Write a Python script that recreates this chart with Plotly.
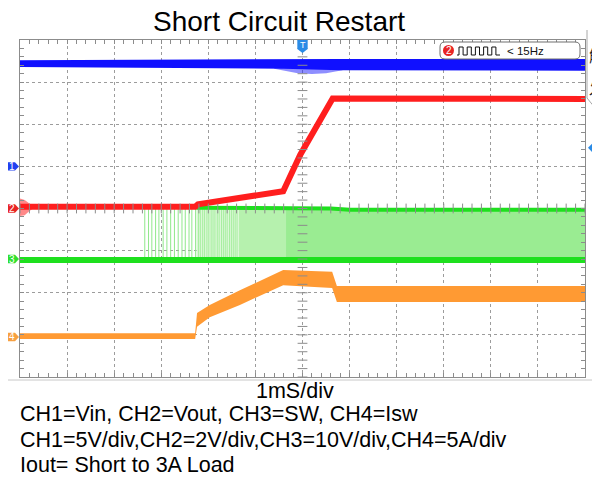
import numpy as np
import plotly.graph_objects as go

# scope screen in px (reference picture coords): 12 x 8 divisions
L, T, W, H = 20, 40, 565, 337
PAGE = 8  # body margin of the html page
FIG_W, FIG_H = 600 - PAGE, 477 - PAGE

BLUE = "#1010ff"
RED = "#ff1e1e"
GREEN = "#1ee01e"
ORANGE = "#ff9a33"
TRIG = "#2a8be6"
GRIDC = "#9c9c9c"
FRAME = "#8c8c8c"
FONT = "Liberation Sans, Arial, sans-serif"
CJK = "Noto Sans CJK SC, Noto Sans CJK JP, sans-serif"

# time in ms (1 ms/div, trigger at 0), levels in divisions
CH_LABELS = ["1", "2", "3", "4"]
CH_LEVELS = [1.0, 0.0, -1.2, -3.05]
CH_COLORS = ["#2040f0", "#e82424", "#2ee02e", "#f7a040"]
TRIG_LEVEL = 1.44

# CH1 Vin (band + fuzz during restart)
CH1_T = [-6, -0.4, 0.8, 6]
CH1_HI = [3.52, 3.55, 3.55, 3.55]
CH1_LO = [3.36, 3.32, 3.28, 3.27]
CH1_FUZZ_T = [-0.6, -0.3, -0.1, 0.2, 0.5, 0.7, 0.85]
CH1_FUZZ_LO = [3.32, 3.25, 3.21, 3.19, 3.21, 3.25, 3.28]

# CH2 Vout
CH2_T = [-6, -2.28, -2.22, -0.41, -0.05, 0.64, 6]
CH2_V = [0.04, 0.04, 0.10, 0.41, 1.27, 2.61, 2.60]
CH2_BURST_T = [-6, -5.9, -5.8, -5.72]
CH2_BURST_HI = [0.24, 0.2, 0.12, 0.06]
CH2_BURST_LO = [-0.18, -0.16, -0.06, 0.0]

# CH3 SW
CH3_BASE = -1.22
CH3_TOP = 0.0
CH3_PULSES = [-3.35, -3.27, -3.20, -3.12, -3.05, -2.96, -2.88, -2.80,
              -2.72, -2.64, -2.56, -2.49, -2.41, -2.35, -2.27]
CH3_PULSES_DENSE = [-2.21, -2.17, -2.12, -2.08, -2.03, -1.99, -1.94, -1.90, -1.86,
                    -1.81, -1.77, -1.72, -1.68, -1.64, -1.60, -1.55, -1.51, -1.47,
                    -1.43, -1.39]
CH3_SEG_T = [-2.25, -1.35, -0.35, 6.0]
CH3_SEG_COL = ["#dcf8d8", "#b6f1ae", "#9aec92"]
CH3_EDGE_T = [-2.25, 0.6, 1.0, 6.0]
CH3_EDGE_V = [0.02, 0.0, -0.03, -0.03]

# CH4 Isw (band)
CH4_T = [-6, -2.28, -2.24, -1.97, -1.33, -0.41, 0.63, 0.73, 6]
CH4_HI = [-2.96, -2.96, -2.48, -2.29, -1.94, -1.46, -1.50, -1.84, -1.84]
CH4_LO = [-3.10, -3.10, -2.81, -2.58, -2.29, -1.82, -1.89, -2.22, -2.22]


def px(x):
    return (x - L) / W


def py(y):
    return (T + H - y) / H


def band(fig, t, lo, hi, color):
    fig.add_trace(go.Scatter(x=t, y=lo, mode="lines", line=dict(width=0),
                             hoverinfo="skip", showlegend=False))
    fig.add_trace(go.Scatter(x=t, y=hi, mode="lines", line=dict(width=0),
                             fill="tonexty", fillcolor=color,
                             hoverinfo="skip", showlegend=False))


def line(fig, t, v, color, width):
    fig.add_trace(go.Scatter(x=t, y=v, mode="lines", line=dict(color=color, width=width),
                             hoverinfo="skip", showlegend=False))


def pulses(fig, ts, color):
    xs, ys = [], []
    for t in ts:
        xs += [t, t, None]
        ys += [CH3_BASE, CH3_TOP + 0.03, None]
    fig.add_trace(go.Scatter(x=xs, y=ys, mode="lines", line=dict(color=color, width=1),
                             hoverinfo="skip", showlegend=False))


def note(text, x, y, size, color="black", xanchor="center", family=FONT, xref="paper", yref="paper"):
    return dict(text=text, x=x, y=y, xref=xref, yref=yref, xanchor=xanchor, yanchor="middle",
                showarrow=False, font=dict(size=size, color=color, family=family))


def rounded(x0, y0, x1, y1, r):
    a, b, c, d = px(x0), px(x1), py(y0), py(y1)
    rx, ry = r / W, r / H
    return (f"M {a+rx},{c} L {b-rx},{c} Q {b},{c} {b},{c-ry} L {b},{d+ry} "
            f"Q {b},{d} {b-rx},{d} L {a+rx},{d} Q {a},{d} {a},{d+ry} "
            f"L {a},{c-ry} Q {a},{c} {a+rx},{c} Z")


fig = go.Figure()

# CH3 switching node
for i, col in enumerate(CH3_SEG_COL):
    band(fig, CH3_SEG_T[i:i + 2], [CH3_BASE] * 2, [CH3_TOP] * 2, col)
pulses(fig, CH3_PULSES, "#8fe88a")
pulses(fig, CH3_PULSES_DENSE, "#a6ee9f")
line(fig, CH3_EDGE_T, CH3_EDGE_V, GREEN, 4)
line(fig, [-6, 6], [CH3_BASE, CH3_BASE], GREEN, 6)

# CH4 inductor current
band(fig, CH4_T, CH4_LO, CH4_HI, ORANGE)

# CH1 input voltage
band(fig, CH1_FUZZ_T, CH1_FUZZ_LO, [3.4] * len(CH1_FUZZ_T), "rgba(30,30,255,0.5)")
band(fig, CH1_T, CH1_LO, CH1_HI, BLUE)

# CH2 output voltage
band(fig, CH2_BURST_T, CH2_BURST_LO, CH2_BURST_HI, "rgba(255,40,40,0.55)")
line(fig, CH2_T, CH2_V, RED, 6)

# centre graticule ticks
ys = np.arange(-4, 4.01, 0.2)
xs = np.arange(-6, 6.01, 0.2)
fig.add_trace(go.Scatter(x=np.zeros_like(ys), y=ys, mode="markers", hoverinfo="skip",
                         marker=dict(symbol="line-ew", size=7, line=dict(width=1, color=FRAME)),
                         showlegend=False))
fig.add_trace(go.Scatter(x=xs, y=np.zeros_like(xs), mode="markers", hoverinfo="skip",
                         marker=dict(symbol="line-ns", size=7, line=dict(width=1, color=FRAME)),
                         showlegend=False))

shapes, notes = [], []

# channel ground flags
for lab, lev, col in zip(CH_LABELS, CH_LEVELS, CH_COLORS):
    h = 0.1
    shapes.append(dict(type="path", xref="paper", yref="y", fillcolor=col, line=dict(width=0),
                       path=f"M {px(7)},{lev+h} L {px(15)},{lev+h} L {px(19)},{lev} "
                            f"L {px(15)},{lev-h} L {px(7)},{lev-h} Z"))
    notes.append(note(lab, px(12), lev, 10, "white", yref="y"))

# trigger position (top) and level (right)
shapes.append(dict(type="path", xref="x", yref="paper", fillcolor=TRIG, line=dict(width=0),
                   path=f"M -0.11,{py(40)} L 0.11,{py(40)} L 0.11,{py(49)} L 0,{py(53)} "
                        f"L -0.11,{py(49)} Z"))
notes.append(note("T", 0, py(45.5), 9, "white", xref="x"))
shapes.append(dict(type="path", xref="paper", yref="y", fillcolor=TRIG, line=dict(width=0),
                   path=f"M {px(600)},{TRIG_LEVEL+0.1} L {px(592)},{TRIG_LEVEL+0.1} "
                        f"L {px(588)},{TRIG_LEVEL} L {px(592)},{TRIG_LEVEL-0.1} "
                        f"L {px(600)},{TRIG_LEVEL-0.1} Z"))
notes.append(note("T", px(595.5), TRIG_LEVEL, 8, "white", yref="y"))

# right side panel (menu, mostly off screen)
shapes.append(dict(type="path", xref="paper", yref="paper", line=dict(color="#a8a8a8", width=1),
                   path=f"M {px(587)},{py(30)} L {px(587)},{py(98)} L {px(600)},{py(114)}"))
notes.append(note("触", px(587), py(55), 16, "#222", "left", CJK))
notes.append(note("发", px(587), py(88), 16, "#222", "left", CJK))
shapes.append(dict(type="path", xref="paper", yref="paper", line=dict(color="#c8c8c8", width=1),
                   path=f"M {px(8)},{py(380)} L {px(594)},{py(380)} Q {px(599)},{py(380)} "
                        f"{px(599)},{py(375)}"))

# trigger info box
shapes.append(dict(type="path", xref="paper", yref="paper", line=dict(color="#6e6e6e", width=1),
                   fillcolor="white", path=rounded(440, 42, 580, 59, 5)))
shapes.append(dict(type="circle", xref="paper", yref="paper", fillcolor="#e82424",
                   line=dict(width=0), x0=px(443), x1=px(454), y0=py(45), y1=py(56)))
notes.append(note("2", px(448.5), py(50.5), 10, "white"))
wave = f"M {px(457)},{py(55)}"
for k in range(5):
    x0 = 459 + k * 8.2
    wave += (f" L {px(x0)},{py(55)} L {px(x0)},{py(47)} L {px(x0+4.1)},{py(47)}"
             f" L {px(x0+4.1)},{py(55)}")
wave += f" L {px(500)},{py(55)}"
shapes.append(dict(type="path", xref="paper", yref="paper", line=dict(color="#111", width=1),
                   path=wave))
notes.append(note("< 15Hz", px(505), py(50.5), 11.5, "#111", "left"))

# captions
notes.append(note("Short Circuit Restart", px(279), py(22), 28))
notes.append(note("1mS/div", px(295), py(391), 21.5))
for txt, yy in (("CH1=Vin, CH2=Vout, CH3=SW, CH4=Isw", 414),
                ("CH1=5V/div,CH2=2V/div,CH3=10V/div,CH4=5A/div", 440),
                ("Iout= Short to 3A Load", 465)):
    notes.append(note(txt, px(18), py(yy), 21.5, "black", "left"))

axis = dict(showgrid=True, gridcolor=GRIDC, griddash="dot", gridwidth=1, zeroline=False,
            showline=True, linecolor=FRAME, linewidth=1, mirror="allticks",
            ticks="inside", ticklen=4, tickcolor=FRAME, showticklabels=False,
            minor=dict(ticks="inside", ticklen=4, tickcolor=FRAME, showgrid=False))

fig.update_layout(
    width=FIG_W, height=FIG_H,
    margin=dict(l=L - PAGE, r=FIG_W - (L - PAGE) - W, t=T - PAGE, b=FIG_H - (T - PAGE) - H),
    plot_bgcolor="white", paper_bgcolor="white",
    showlegend=False, shapes=shapes, annotations=notes,
)
fig.update_xaxes(**axis, range=[-6, 6], dtick=1, tick0=0, fixedrange=True)
fig.update_xaxes(minor_dtick=0.2)
fig.update_yaxes(**axis, range=[-4, 4], dtick=1, tick0=0, fixedrange=True)
fig.update_yaxes(minor_dtick=0.2)

fig.write_html("out.html", config={"displayModeBar": False})
